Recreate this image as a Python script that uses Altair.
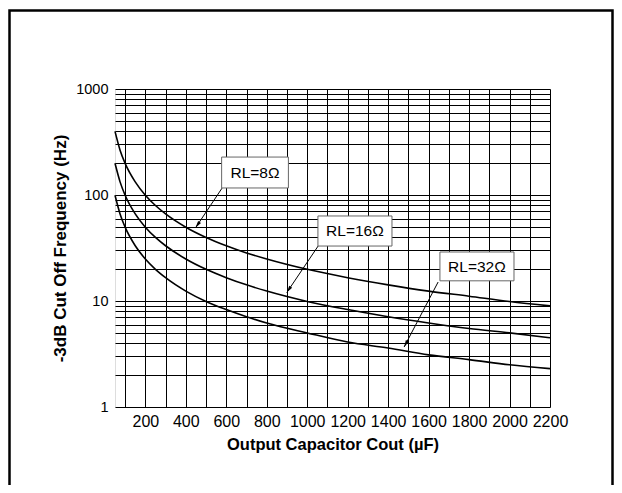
import altair as alt
import pandas as pd

# ---- data ----
cap_uF = [50, 75, 100, 150, 200, 250, 300, 400, 500, 600, 700, 800,
          1000, 1200, 1400, 1600, 1800, 2000, 2200]
f_rl8 = [398, 265, 199, 133, 99.5, 79.6, 66.3, 49.7, 39.8, 33.2, 28.4, 24.9,
         19.9, 16.6, 14.2, 12.4, 11.1, 9.9, 9.0]
f_rl16 = [199, 133, 99.5, 66.3, 49.7, 39.8, 33.2, 24.9, 19.9, 16.6, 14.2, 12.4,
          9.9, 8.3, 7.1, 6.2, 5.5, 5.0, 4.5]
f_rl32 = [99.5, 66.3, 49.7, 33.2, 24.9, 19.9, 16.6, 12.4, 9.9, 8.3, 7.1, 6.2,
          5.0, 4.1, 3.6, 3.1, 2.8, 2.5, 2.3]

series_names = ["RL=8Ω", "RL=16Ω", "RL=32Ω"]

# annotation anchors (data coordinates)
ann_text_x = [742, 1236, 1839]
ann_text_y = [163, 45.7, 21.1]
ann_box_x1 = [577, 1053, 1656]
ann_box_x2 = [907, 1419, 2022]
ann_box_top = [228, 63.4, 29.0]
ann_box_bot = [116.5, 33.0, 15.5]
arrow_x1 = [579, 1054, 1647]
arrow_y1 = [116, 33.0, 15.1]
arrow_x2 = [448, 899, 1479]
arrow_y2 = [49, 12.0, 3.68]
arrow_angle = [215, 214, 208]

x_ticks = list(range(100, 2201, 100))
y_ticks = [m * d for d in (1, 10, 100) for m in range(1, 10)] + [1000]

rows = []
for name, vals in zip(series_names, [f_rl8, f_rl16, f_rl32]):
    for c, f in zip(cap_uF, vals):
        rows.append({"cap": c, "freq": f, "series": name})
curves = pd.DataFrame(rows)

ann = pd.DataFrame({
    "label": series_names,
    "tx": ann_text_x, "ty": ann_text_y,
    "bx1": ann_box_x1, "bx2": ann_box_x2,
    "by1": ann_box_top, "by2": ann_box_bot,
    "ax1": arrow_x1, "ay1": arrow_y1,
    "ax2": arrow_x2, "ay2": arrow_y2,
    "angle": arrow_angle,
})

FONT = "Liberation Sans"

x_scale = alt.Scale(domain=[50, 2200], nice=False, zero=False)
y_scale = alt.Scale(type="log", domain=[1, 1000], nice=False)

x_axis = alt.Axis(
    values=x_ticks,
    labelExpr="datum.value % 200 === 0 ? format(datum.value, 'd') : ''",
    grid=True, gridColor="black", gridWidth=1, gridOpacity=1,
    ticks=False, domain=False, labelFlush=False, labelOverlap=False,
    labelFont=FONT, labelFontSize=16, labelColor="black", labelPadding=6,
    title="Output Capacitor Cout (µF)", titleFont=FONT, titleFontSize=16.5,
    titleFontWeight="bold", titleColor="black", titlePadding=7,
)
y_axis = alt.Axis(
    values=y_ticks,
    labelExpr="indexof([1,10,100,1000], datum.value) >= 0 ? format(datum.value, 'd') : ''",
    grid=True, gridColor="black", gridWidth=1, gridOpacity=1,
    ticks=False, domain=False, labelFlush=False, labelOverlap=False,
    labelFont=FONT, labelFontSize=14.5, labelColor="black", labelPadding=7,
    title="-3dB Cut Off Frequency (Hz)", titleFont=FONT, titleFontSize=17,
    titleFontWeight="bold", titleColor="black", titlePadding=6,
)


def X(field):
    return alt.X(field, type="quantitative", scale=x_scale, axis=x_axis)


def Y(field):
    return alt.Y(field, type="quantitative", scale=y_scale, axis=y_axis)


lines = alt.Chart(curves).mark_line(
    color="black", strokeWidth=1.6, interpolate="monotone"
).encode(
    x=X("cap"), y=Y("freq"), detail="series:N",
)

arrows = alt.Chart(ann).mark_rule(color="black", strokeWidth=1).encode(
    x=X("ax1"), y=Y("ay1"), x2="ax2:Q", y2="ay2:Q"
)
heads = alt.Chart(ann).mark_point(
    shape="M0,0 L-0.5,2 L0.5,2 Z", filled=True, color="black", opacity=1, size=49
).encode(
    x=X("ax2"), y=Y("ay2"), angle=alt.Angle("angle:Q", scale=None)
)
boxes = alt.Chart(ann).mark_rect(
    fill="white", stroke="#666666", strokeWidth=1
).encode(
    x=X("bx1"), x2="bx2:Q", y=Y("by1"), y2="by2:Q"
)
texts = alt.Chart(ann).mark_text(
    font=FONT, fontSize=15.5, color="black", baseline="middle", align="center"
).encode(
    x=X("tx"), y=Y("ty"), text="label:N"
)

frame = alt.Chart(pd.DataFrame({"k": [0]})).mark_rect(
    fill="transparent", stroke="black", strokeWidth=2.5
).encode(
    x=alt.value(-105.5), x2=alt.value(497.5), y=alt.value(-78.5), y2=alt.value(500)
)

chart = alt.layer(lines, arrows, heads, boxes, texts, frame).properties(
    width=435, height=318,
    padding={"left": 107, "top": 81, "right": 64, "bottom": 78},
    autosize=alt.AutoSizeParams(type="none"),
).configure_view(
    stroke="black", strokeWidth=1.5
).configure(background="white")

chart.save("out.html", embed_options={"renderer": "svg", "actions": False})
